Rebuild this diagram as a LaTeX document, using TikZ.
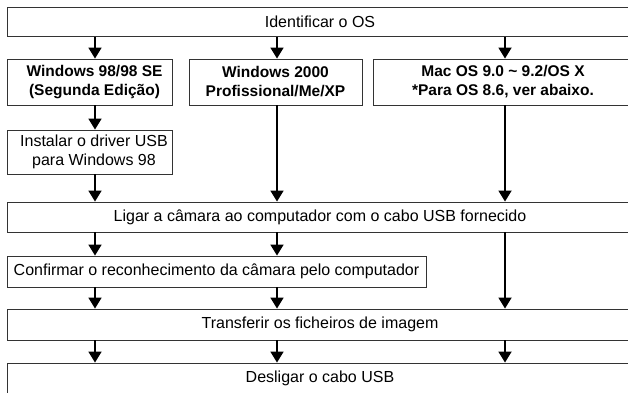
\documentclass[tikz,border=0pt]{standalone}
\usepackage{fontspec}
\setmainfont{Liberation Sans}
\usetikzlibrary{arrows.meta}

\begin{document}
\begin{tikzpicture}[x=1pt, y=-1pt,
    box/.style={draw=black!80, line width=0.9pt, rectangle, inner sep=1pt, align=center,
      font=\fontsize{16}{19}\selectfont},
    boldbox/.style={box, font=\fontsize{15.5}{19}\selectfont\bfseries},
    arr/.style={line width=1.8pt, -{Triangle[width=13pt,length=11pt]}}]
  \useasboundingbox (0,0) rectangle (628,392);
  \clip (0,0) rectangle (628,392);
  % columns the arrows run down
  \coordinate (c1) at (95,0);
  \coordinate (c2) at (277,0);
  \coordinate (c3) at (505,0);

  \node[box, minimum width=626pt, minimum height=29pt] (os) at (320,22) {Identificar o OS};
  \node[boldbox, minimum width=165pt, minimum height=46pt] (w98) at (89.5,82)
    {\hspace*{10pt}Windows 98/98 SE\\\hspace*{10pt}(Segunda Edição)};
  \node[boldbox, minimum width=173pt, minimum height=46pt] (w2k) at (275.5,82)
    {Windows 2000\\Profissional/Me/XP};
  \node[boldbox, minimum width=260pt, minimum height=46pt] (mac) at (503,82)
    {Mac OS 9.0 \textasciitilde{} 9.2/OS X\\*Para OS 8.6, ver abaixo.};
  \node[box, minimum width=165pt, minimum height=44pt] (usb) at (89.5,152)
    {\hspace*{9pt}Instalar o driver USB\\\hspace*{9pt}para Windows 98};
  \node[box, minimum width=626pt, minimum height=30pt] (lig) at (320,217)
    {Ligar a câmara ao computador com o cabo USB fornecido};
  \node[box, minimum width=419pt, minimum height=31pt] (conf) at (216.5,271.5)
    {Confirmar o reconhecimento da câmara pelo computador};
  \node[box, minimum width=626pt, minimum height=31pt] (trf) at (320,324.5)
    {Transferir os ficheiros de imagem};
  \node[box, minimum width=626pt, minimum height=31pt] (des) at (320,378.5)
    {Desligar o cabo USB};

  \draw[arr] (os.south -| c1) -- (w98.north -| c1);
  \draw[arr] (os.south -| c2) -- (w2k.north -| c2);
  \draw[arr] (os.south -| c3) -- (mac.north -| c3);
  \draw[arr] (w98.south -| c1) -- (usb.north -| c1);
  \draw[arr] (usb.south -| c1) -- (lig.north -| c1);
  \draw[arr] (w2k.south -| c2) -- (lig.north -| c2);
  \draw[arr] (mac.south -| c3) -- (lig.north -| c3);
  \draw[arr] (lig.south -| c1) -- (conf.north -| c1);
  \draw[arr] (lig.south -| c2) -- (conf.north -| c2);
  \draw[arr] (lig.south -| c3) -- (trf.north -| c3);
  \draw[arr] (conf.south -| c1) -- (trf.north -| c1);
  \draw[arr] (conf.south -| c2) -- (trf.north -| c2);
  \draw[arr] (trf.south -| c1) -- (des.north -| c1);
  \draw[arr] (trf.south -| c2) -- (des.north -| c2);
  \draw[arr] (trf.south -| c3) -- (des.north -| c3);
\end{tikzpicture}
\end{document}
